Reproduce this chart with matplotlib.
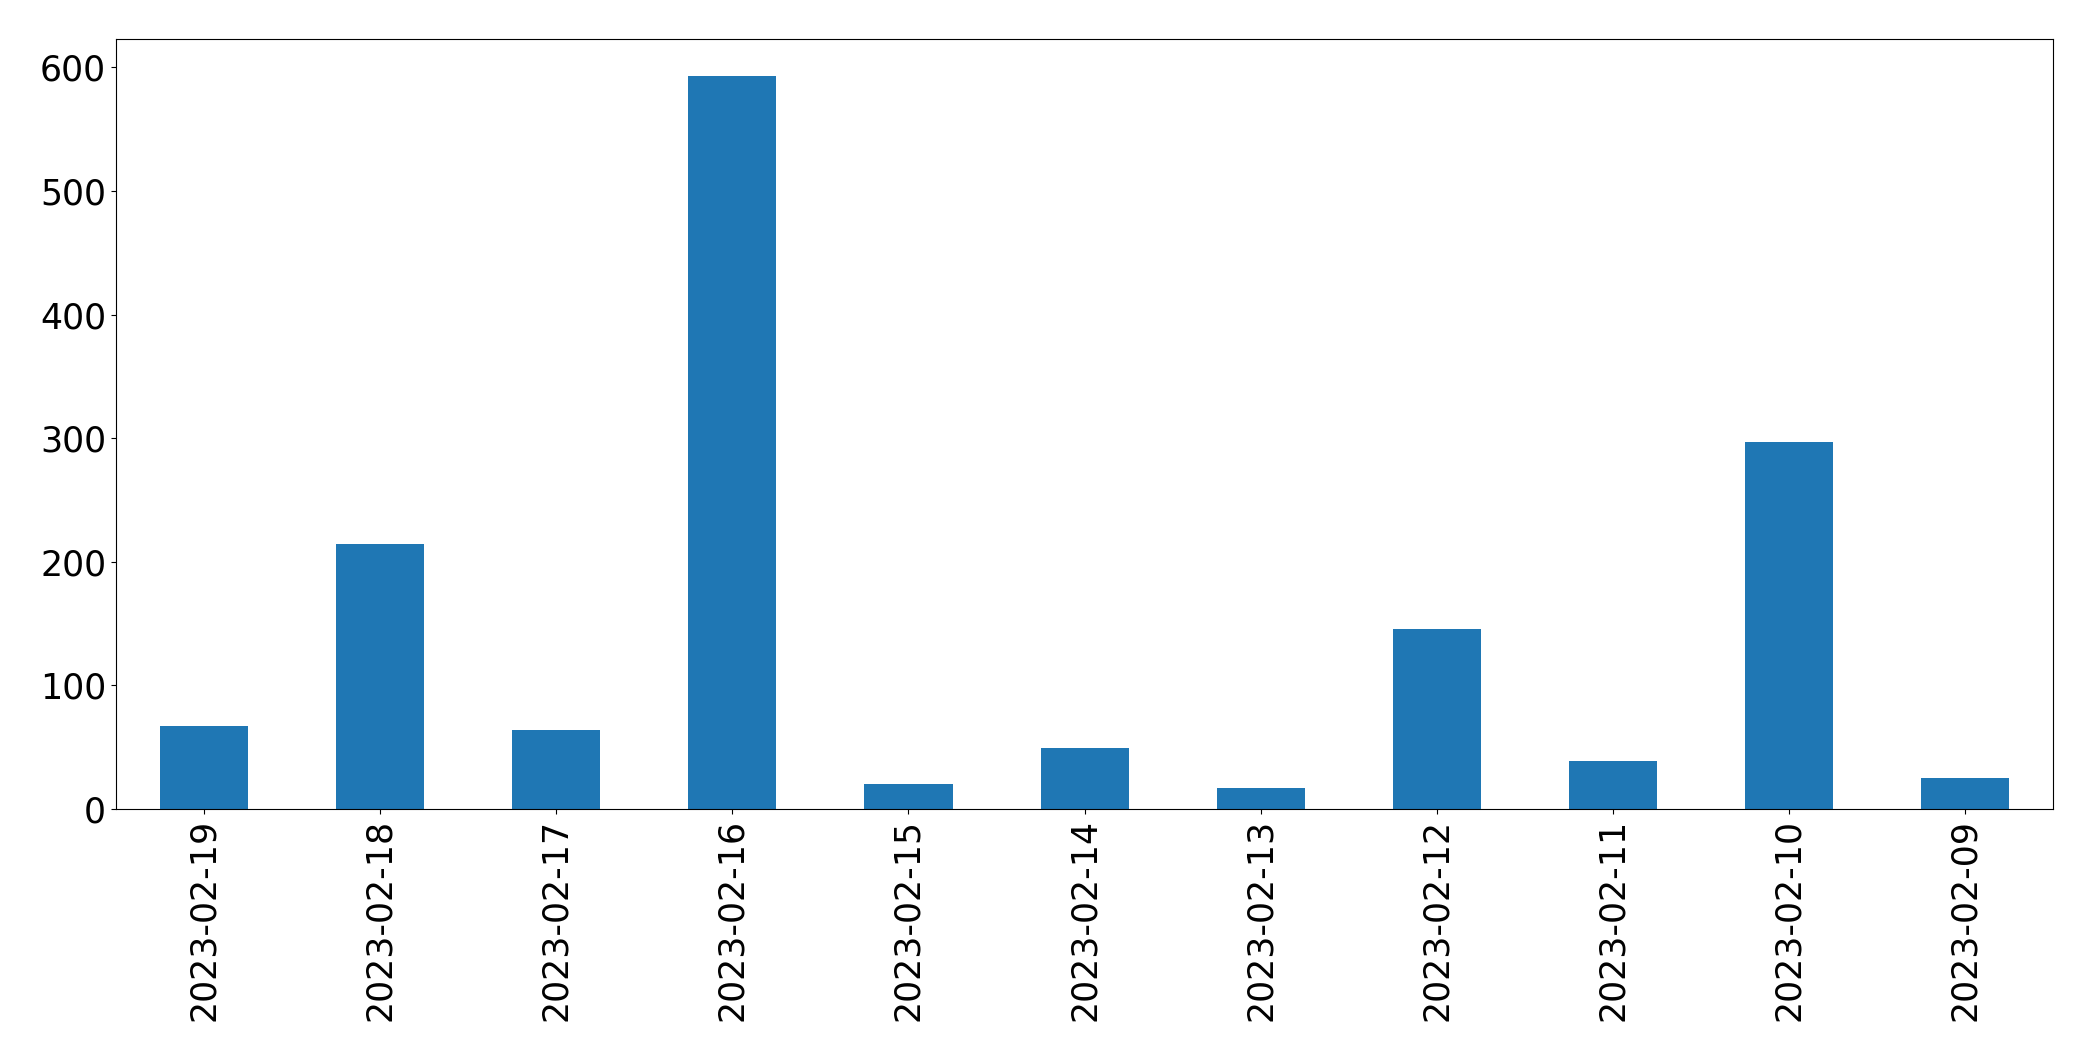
import matplotlib
matplotlib.use("Agg")
from matplotlib import pyplot as plt

dates = ["2023-02-19", "2023-02-18", "2023-02-17", "2023-02-16", "2023-02-15",
         "2023-02-14", "2023-02-13", "2023-02-12", "2023-02-11", "2023-02-10",
         "2023-02-09"]
counts = [67, 214, 64, 593, 20, 49, 17, 146, 39, 297, 25]

fig = plt.figure(figsize=(20.93, 10.61), dpi=100)
ax = fig.add_subplot(111)
fig.subplots_adjust(left=0.0554, right=0.981, top=0.963, bottom=0.2375)

x = range(len(dates))
ax.bar(x, counts, width=0.5, color="#1f77b4")
ax.set_xlim(-0.5, len(dates) - 0.5)
ax.set_xticks(list(x))
ax.set_xticklabels(dates, rotation=90)
ax.tick_params(axis="both", labelsize=25)

plt.savefig("out.png", dpi=100)
